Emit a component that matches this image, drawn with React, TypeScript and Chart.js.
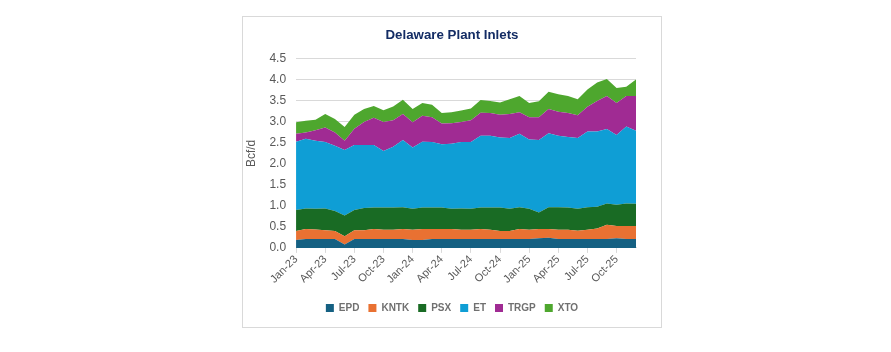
import React, { useEffect, useRef } from "react";
import { Chart, registerables } from "chart.js";

Chart.register(...registerables);

const months = [
  "Jan-23","Feb-23","Mar-23","Apr-23","May-23","Jun-23","Jul-23","Aug-23","Sep-23","Oct-23","Nov-23","Dec-23",
  "Jan-24","Feb-24","Mar-24","Apr-24","May-24","Jun-24","Jul-24","Aug-24","Sep-24","Oct-24","Nov-24","Dec-24",
  "Jan-25","Feb-25","Mar-25","Apr-25","May-25","Jun-25","Jul-25","Aug-25","Sep-25","Oct-25","Nov-25","Dec-25",
];

const EPD = [0.19,0.21,0.21,0.21,0.21,0.08,0.21,0.21,0.21,0.21,0.21,0.21,0.19,0.19,0.21,0.21,0.21,0.21,0.21,0.21,0.21,0.21,0.21,0.21,0.21,0.23,0.24,0.21,0.21,0.21,0.21,0.21,0.21,0.23,0.21,0.21];
const KNTK = [0.21,0.24,0.23,0.21,0.19,0.20,0.21,0.21,0.24,0.22,0.22,0.24,0.24,0.26,0.24,0.24,0.24,0.22,0.22,0.24,0.22,0.19,0.19,0.24,0.22,0.22,0.21,0.22,0.22,0.20,0.22,0.25,0.34,0.29,0.31,0.31];
const PSX = [0.50,0.49,0.49,0.52,0.48,0.49,0.48,0.53,0.51,0.53,0.53,0.52,0.50,0.51,0.51,0.51,0.48,0.51,0.50,0.51,0.53,0.56,0.53,0.52,0.50,0.39,0.52,0.54,0.53,0.52,0.54,0.52,0.51,0.51,0.54,0.53];
const ET = [1.63,1.66,1.62,1.58,1.55,1.56,1.55,1.50,1.49,1.35,1.45,1.60,1.46,1.57,1.56,1.51,1.55,1.58,1.59,1.71,1.71,1.67,1.69,1.75,1.65,1.73,1.76,1.70,1.68,1.69,1.80,1.79,1.77,1.66,1.83,1.74];
const TRGP = [0.19,0.15,0.25,0.35,0.32,0.22,0.39,0.55,0.65,0.69,0.63,0.62,0.60,0.62,0.59,0.49,0.49,0.48,0.52,0.55,0.54,0.54,0.57,0.51,0.53,0.54,0.58,0.57,0.57,0.54,0.59,0.73,0.79,0.76,0.73,0.83];
const XTO = [0.27,0.28,0.25,0.32,0.32,0.33,0.33,0.31,0.28,0.28,0.33,0.34,0.32,0.30,0.30,0.25,0.26,0.27,0.28,0.30,0.29,0.29,0.35,0.39,0.34,0.38,0.41,0.42,0.41,0.38,0.41,0.44,0.40,0.36,0.22,0.39];

const seriesNames = ["EPD", "KNTK", "PSX", "ET", "TRGP", "XTO"];
const seriesData = [EPD, KNTK, PSX, ET, TRGP, XTO];
const seriesColors = ["#156082", "#E97132", "#196B24", "#0F9ED5", "#A02B93", "#4EA72E"];

const FONT = "'Liberation Sans', Arial, sans-serif";
const GRAY = "#595959";

export default function App() {
  const ref = useRef<HTMLCanvasElement | null>(null);

  useEffect(() => {
    if (!ref.current) return;
    const chart = new Chart(ref.current, {
      type: "line",
      data: {
        labels: months,
        datasets: seriesNames.map((name, i) => ({
          label: name,
          data: seriesData[i],
          backgroundColor: seriesColors[i],
          borderColor: seriesColors[i],
          borderWidth: 0,
          pointRadius: 0,
          pointHoverRadius: 0,
          fill: i === 0 ? "origin" : "-1",
          tension: 0,
        })),
      },
      options: {
        animation: false,
        responsive: true,
        maintainAspectRatio: false,
        layout: { padding: { left: 1, right: 1, top: 4, bottom: 4 } },
        plugins: {
          title: {
            display: true,
            text: "Delaware Plant Inlets",
            color: "#132C64",
            font: { family: FONT, size: 13.3, weight: "bold" },
            padding: { top: 6, bottom: 16 },
          },
          legend: {
            position: "bottom",
            labels: {
              boxWidth: 8,
              boxHeight: 8,
              color: "#707070",
              font: { family: FONT, size: 10, weight: "bold" },
              padding: 9,
            },
          },
          tooltip: { enabled: false },
        },
        scales: {
          x: {
            offset: false,
            afterFit: (a: any) => {
              a.height += 8;
            },
            grid: {
              drawOnChartArea: false,
              drawTicks: true,
              tickLength: 5,
              color: (ctx: any) => (ctx.index % 3 === 0 ? "#d9d9d9" : "rgba(0,0,0,0)"),
            },
            border: { color: "#d9d9d9" },
            ticks: {
              autoSkip: false,
              maxRotation: 45,
              minRotation: 45,
              color: GRAY,
              font: { family: FONT, size: 11 },
              padding: 0,
              callback: (_v: any, idx: number) => (idx % 3 === 0 ? months[idx] : ""),
            },
          },
          y: {
            stacked: true,
            min: 0,
            max: 4.5,
            grid: { color: "#d9d9d9", drawTicks: false },
            border: { display: false },
            ticks: {
              stepSize: 0.5,
              color: GRAY,
              padding: 10,
              font: { family: FONT, size: 12 },
              callback: (v: any) => Number(v).toFixed(1),
            },
            title: {
              display: true,
              text: "Bcf/d",
              color: GRAY,
              font: { family: FONT, size: 12 },
              padding: { top: 0, bottom: 1 },
            },
          },
          yRight: {
            type: "linear",
            position: "right",
            display: true,
            grid: { display: false },
            border: { display: false },
            ticks: { display: false },
            afterFit: (a: any) => {
              a.width = 24;
            },
          },
        },
      },
    });
    return () => chart.destroy();
  }, []);

  return (
    <div
      style={{
        position: "absolute",
        left: 242,
        top: 16,
        width: 418,
        height: 310,
        border: "1px solid #d9d9d9",
        background: "#fff",
      }}
    >
      <canvas ref={ref} />
    </div>
  );
}
